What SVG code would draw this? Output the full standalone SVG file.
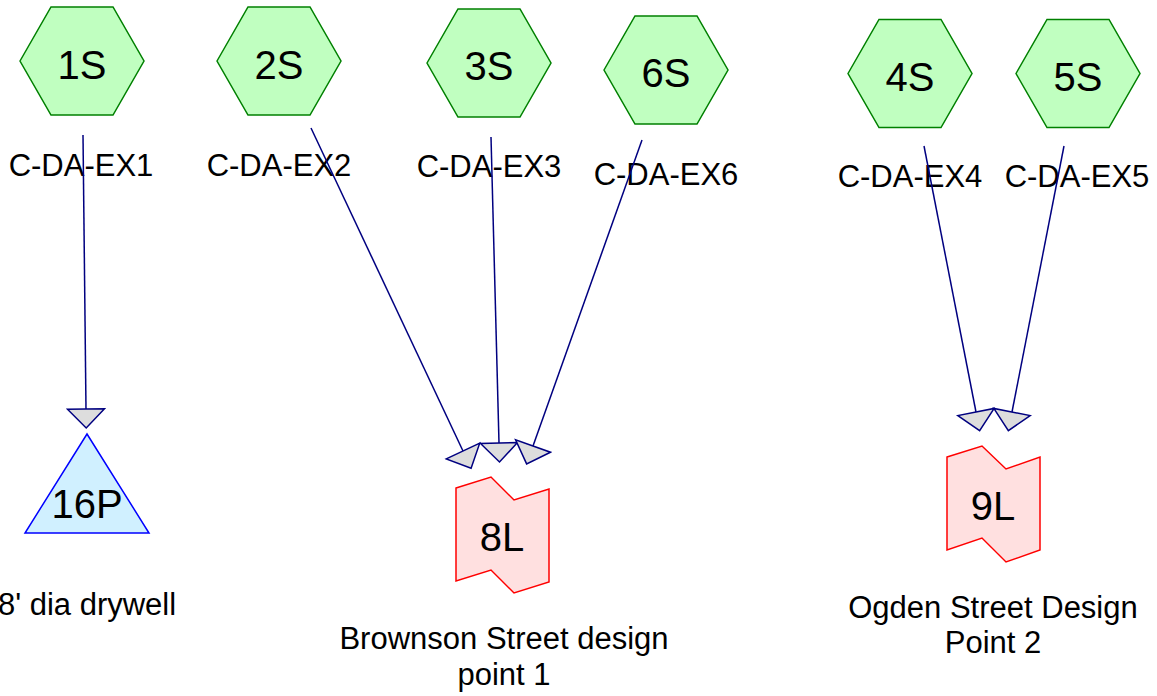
<svg xmlns="http://www.w3.org/2000/svg" width="1157" height="696" viewBox="0 0 1157 696">
<style>
text{font-family:"Liberation Sans",Arial,sans-serif;fill:#000;text-anchor:middle}
.hex{fill:#c0ffc0;stroke:#008000;stroke-width:1.5}
.lbl{font-size:31px}
.id{font-size:40px}
.tri{fill:#d0f0ff;stroke:#0000ff;stroke-width:1.5}
.link{fill:#ffe0e0;stroke:#ff0000;stroke-width:1.5}
.conn{stroke:#000080;stroke-width:1.5;fill:none;marker-end:url(#arr)}
</style>
<defs>
<marker id="arr" markerUnits="userSpaceOnUse" markerWidth="40" markerHeight="40" viewBox="-2 -20 24 40" refX="0" refY="0" orient="auto">
<path d="M0,-18.5 L19,0 L0,18.5 Z" fill="#dddddd" stroke="#000080" stroke-width="1.5"/>
</marker>
</defs>
<rect width="1157" height="696" fill="#fff"/>
<g id="n1S"><polygon class="hex" points="20,61 51,7 113,7 144,61 113,115 51,115"/><text class="id" x="82" y="79">1S</text><text class="lbl" x="81" y="176">C-DA-EX1</text></g>
<g id="n2S"><polygon class="hex" points="217,61 248,7 310,7 341,61 310,115 248,115"/><text class="id" x="279" y="79">2S</text><text class="lbl" x="279" y="176">C-DA-EX2</text></g>
<g id="n3S"><polygon class="hex" points="427,63 458,9 520,9 551,63 520,117 458,117"/><text class="id" x="489" y="80">3S</text><text class="lbl" x="489" y="177">C-DA-EX3</text></g>
<g id="n6S"><polygon class="hex" points="604,70 635,16 697,16 728,70 697,124 635,124"/><text class="id" x="666" y="87">6S</text><text class="lbl" x="666" y="185">C-DA-EX6</text></g>
<g id="n4S"><polygon class="hex" points="848,73.5 879,19.5 941,19.5 972,73.5 941,127.5 879,127.5"/><text class="id" x="910" y="91">4S</text><text class="lbl" x="910" y="187">C-DA-EX4</text></g>
<g id="n5S"><polygon class="hex" points="1016,73.5 1047,19.5 1109,19.5 1140,73.5 1109,127.5 1047,127.5"/><text class="id" x="1078" y="91">5S</text><text class="lbl" x="1077" y="187">C-DA-EX5</text></g>
<g id="n16P"><polygon class="tri" points="87,434 149,533 25,533"/><text class="id" x="87" y="518">16P</text><text class="lbl" x="87" y="615">8' dia drywell</text></g>
<g id="n8L"><polygon class="link" points="456,488 491,477 514,500 549,489 549,582 514,593 491,570 456,581"/><text class="id" x="502" y="551">8L</text><text class="lbl" x="504" y="649">Brownson Street design</text><text class="lbl" x="504" y="685">point 1</text></g>
<g id="n9L"><polygon class="link" points="947,457 982,446 1006,469 1040,457 1040,550 1006,562 982,538 947,550"/><text class="id" x="993" y="520">9L</text><text class="lbl" x="993" y="618">Ogden Street Design</text><text class="lbl" x="993" y="653">Point 2</text></g>
<g id="connectors">
<line class="conn" x1="83" y1="135" x2="86" y2="409"/>
<line class="conn" x1="311" y1="128" x2="463" y2="451"/>
<line class="conn" x1="491" y1="137" x2="499" y2="443"/>
<line class="conn" x1="642" y1="140" x2="533" y2="446"/>
<line class="conn" x1="924" y1="146" x2="976" y2="412"/>
<line class="conn" x1="1064" y1="146" x2="1012" y2="412"/>
</g>
</svg>
